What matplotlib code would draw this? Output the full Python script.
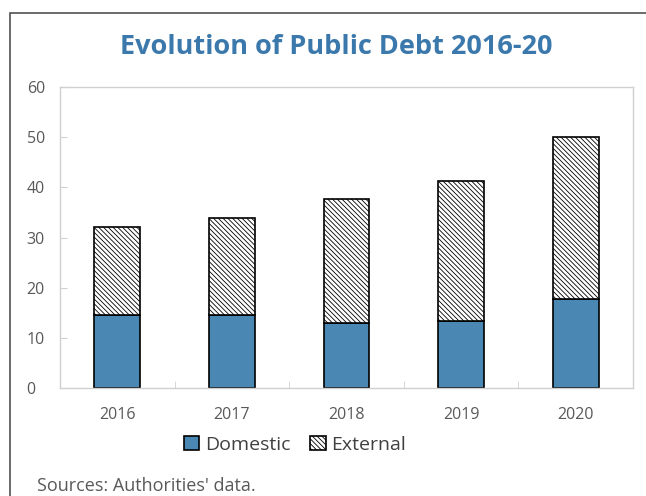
import numpy as np
import matplotlib
matplotlib.use('Agg')
from matplotlib import pyplot as plt
from matplotlib.patches import Rectangle

plt.rcParams['font.family'] = ['Open Sans', 'DejaVu Sans']
plt.rcParams['hatch.linewidth'] = 0.6

# public debt, percent of GDP
years = ['2016', '2017', '2018', '2019', '2020']
domestic = [14.6, 14.6, 13.0, 13.4, 17.8]
external = [17.4, 19.2, 24.6, 27.8, 32.2]

blue = '#4a88b3'
grey_txt = '#595959'
grey_ax = '#d0d0d0'

fig = plt.figure(figsize=(6.46, 4.96), dpi=100)
ax = fig.add_axes([60/646, 1 - 388/496, 573/646, 301/496])

x = np.arange(len(years))
w = 0.4
ax.bar(x, domestic, w, color=blue, edgecolor='black', linewidth=1.2, label='Domestic')
ax.bar(x, external, w, bottom=domestic, color='white', edgecolor='black',
       hatch='\\' * 7, linewidth=1.2, label='External')

ax.set_xlim(-0.5, len(years) - 0.5)
ax.set_ylim(0, 60)
ax.set_yticks(range(0, 61, 10))
ax.set_xticks(x)
ax.set_xticklabels(years)
ax.set_xticks(x[:-1] + 0.5, minor=True)
ax.tick_params(axis='x', which='major', length=0, pad=14, labelsize=11.5, labelcolor=grey_txt)
ax.tick_params(axis='x', which='minor', direction='in', length=5, color=grey_ax)
ax.tick_params(axis='y', direction='in', length=5, color=grey_ax, pad=24,
               labelsize=11.5, labelcolor=grey_txt)
for lab in ax.get_yticklabels():
    lab.set_horizontalalignment('left')
for s in ax.spines.values():
    s.set_color(grey_ax)
    s.set_linewidth(1.0)

ax.legend(loc='upper center', bbox_to_anchor=(0.41, -0.1), ncol=2, frameon=False,
          fontsize=14, handlelength=0.8, handleheight=0.8, handletextpad=0.3,
          columnspacing=1.0, labelcolor='#404040')

fig.text(0.52, 1 - 47/496, 'Evolution of Public Debt 2016-20', ha='center', va='center',
         fontsize=19.5, fontweight='bold', color='#3b78ab')
fig.text(37/646, 1 - 486/496, "Sources: Authorities' data.", ha='left', va='center',
         fontsize=13, color=grey_txt)

# outer border
fig.patches.append(Rectangle((10/646, -0.05), 1.0, 1 - 13/496 + 0.05, transform=fig.transFigure,
                             fill=False, edgecolor='#505050', linewidth=1.2))

fig.savefig('out.png', dpi=100)
